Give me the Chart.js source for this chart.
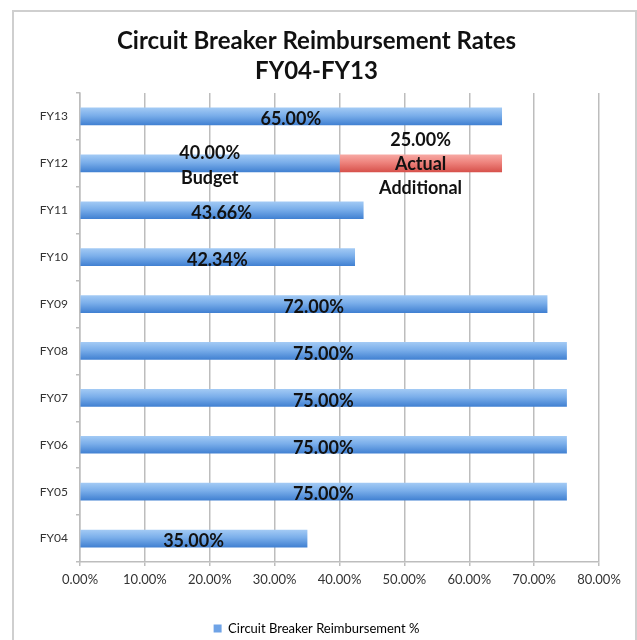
<!DOCTYPE html>
<html>
<head>
<meta charset="utf-8">
<script src="https://cdn.jsdelivr.net/npm/chart.js@4"></script>
<style>
  body { margin: 0; background: #fff; }
  #frame { position: absolute; left: 12px; top: 10px; width: 621px; height: 660px; border: 2px solid #cfcfcf; }
  #wrap { position: absolute; left: 0; top: 0; width: 637px; height: 640px; }
</style>
</head>
<body>
<div id="frame"></div>
<div id="wrap"><canvas id="chart" width="637" height="640"></canvas></div>
<script>
// fiscal years, oldest first (axis is reversed so FY13 sits on top)
const years = ["FY04", "FY05", "FY06", "FY07", "FY08", "FY09", "FY10", "FY11", "FY12", "FY13"]
const rates = [35.00, 75.00, 75.00, 75.00, 75.00, 72.00, 42.34, 43.66, 40.00, 65.00]
const additional = [null, null, null, null, null, null, null, null, 25.00, null]
const xTicks = [0, 10, 20, 30, 40, 50, 60, 70, 80]
const seriesName = "Circuit Breaker Reimbursement %"
const budgetNote = ["Budget"]
const additionalNote = ["Actual", "Additional"]

const FONT = "Lato, 'Open Sans', sans-serif"

const barGradient = (ctx, light, dark) => {
    const chart = ctx.chart
    const { chartArea } = chart
    if (!chartArea) return dark
    const y = chart.scales.y.getPixelForValue(ctx.dataIndex)
    const g = chart.ctx.createLinearGradient(0, y - 9, 0, y + 9)
    g.addColorStop(0, light[0])
    g.addColorStop(0.45, light[1])
    g.addColorStop(1, dark)
    return g
}

const fmt = v => v.toFixed(2) + "%"

const labelPlugin = {
    id: "barLabels",
    afterDatasetsDraw(chart) {
        const ctx = chart.ctx
        const xs = chart.scales.x
        const ys = chart.scales.y
        ctx.save()
        ctx.fillStyle = "#111"
        ctx.textAlign = "center"
        ctx.textBaseline = "middle"
        ctx.font = "bold 18px " + FONT
        rates.forEach((v, i) => {
            const y = ys.getPixelForValue(i)
            const x = xs.getPixelForValue(v / 2)
            if (additional[i] == null) {
                ctx.fillText(fmt(v), x, y + 3)
            } else {
                ctx.fillText(fmt(v), x, y - 10)
                ctx.fillText(budgetNote[0], x, y + 15)
                const x2 = xs.getPixelForValue(v + additional[i] / 2)
                ctx.fillText(fmt(additional[i]), x2, y - 23)
                ctx.fillText(additionalNote[0], x2, y + 1)
                ctx.fillText(additionalNote[1], x2, y + 25)
            }
        })
        ctx.restore()
    }
}

new Chart(document.getElementById("chart"), {
    type: "bar",
    data: {
        labels: years,
        datasets: [
            {
                label: seriesName,
                data: rates,
                backgroundColor: c => barGradient(c, ["#a4cbf5", "#7aaeea"], "#3f7fd1"),
                barThickness: 17
            },
            {
                label: "Additional",
                data: additional,
                backgroundColor: c => barGradient(c, ["#f7aaa5", "#ee837d"], "#d6504a"),
                barThickness: 17
            }
        ]
    },
    options: {
        indexAxis: "y",
        responsive: false,
        animation: false,
        layout: { padding: { left: 34, right: 38, top: 0, bottom: -5 } },
        scales: {
            x: {
                stacked: true,
                min: 0,
                max: 80,
                afterBuildTicks: s => { s.ticks = xTicks.map(v => ({ value: v })) },
                afterFit: s => { s.height = 50 },
                grid: { color: "#bdbdbd", lineWidth: 1.5, tickLength: 4 },
                border: { color: "#bdbdbd", width: 1.5 },
                ticks: {
                    callback: v => fmt(v),
                    color: "#333",
                    font: { family: FONT, size: 13 },
                    padding: 6,
                    maxRotation: 0
                }
            },
            y: {
                stacked: true,
                reverse: true,
                afterFit: s => { s.width = 46 },
                grid: { drawOnChartArea: false, color: "#bdbdbd", lineWidth: 1.5, tickLength: 4 },
                border: { color: "#bdbdbd", width: 1.5 },
                ticks: {
                    color: "#333",
                    font: { family: FONT, size: 12 },
                    padding: 8
                }
            }
        },
        plugins: {
            title: {
                display: true,
                text: ["Circuit Breaker Reimbursement Rates", "FY04-FY13"],
                color: "#111",
                font: { family: FONT, size: 24, weight: "bold", lineHeight: 1.25 },
                padding: { top: 26, bottom: 7 }
            },
            legend: {
                position: "bottom",
                labels: {
                    filter: item => item.datasetIndex === 0,
                    boxWidth: 8,
                    boxHeight: 8,
                    color: "#444",
                    font: { family: FONT, size: 13 },
                    padding: 10,
                    generateLabels: chart => [{
                        text: seriesName,
                        fillStyle: "#6fa3e6",
                        strokeStyle: "#6fa3e6",
                        lineWidth: 0,
                        datasetIndex: 0
                    }]
                }
            },
            tooltip: { enabled: false }
        }
    },
    plugins: [labelPlugin]
})
</script>
</body>
</html>
